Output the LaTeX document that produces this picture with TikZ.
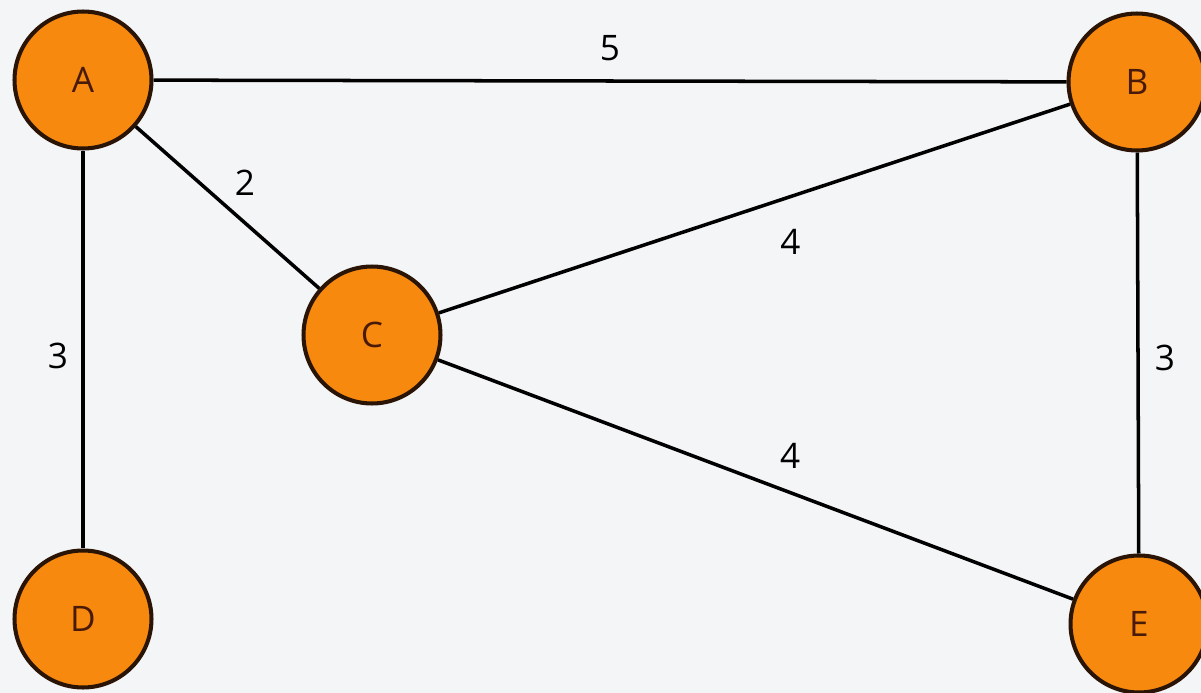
\documentclass[tikz,border=0pt]{standalone}
\usepackage{fontspec}
\setmainfont{Open Sans}
\usepackage{tikz}
\usetikzlibrary{positioning}

\definecolor{vertexfill}{HTML}{F7890F}
\definecolor{vertexline}{HTML}{2A1405}
\definecolor{vertextext}{HTML}{4A1A08}
\definecolor{paper}{HTML}{F4F5F7}

\begin{document}
\begin{tikzpicture}[
  x=0.02cm, y=-0.02cm,
  vertex/.style={circle, draw=vertexline, fill=vertexfill, line width=2.3pt,
    minimum size=2.74cm, inner sep=0pt, text=vertextext, font=\fontsize{20}{22}\selectfont},
  edge/.style={draw=black, line width=2pt},
  weight/.style={font=\fontsize{20}{22}\selectfont, inner sep=1pt}
]
\fill[paper] (0,0) rectangle (1201,693);
\useasboundingbox (0,0) rectangle (1201,693);

\node[vertex] (A) at (83,80) {A};
\node[vertex] (B) at (1137,82) {B};
\node[vertex] (C) at (372,335) {C};
\node[vertex] (D) at (83,619) {D};
\node[vertex] (E) at (1139,624) {E};

\draw[edge] (A) -- node[weight, midway, yshift=0.66cm] {5} (B);
\draw[edge] (A) -- node[weight, midway, xshift=0.35cm, yshift=0.5cm] {2} (C);
\draw[edge] (A) -- node[weight, midway, xshift=-0.5cm, yshift=-0.12cm] {3} (D);
\draw[edge] (C) -- node[weight, pos=0.546, xshift=0.14cm, yshift=-0.86cm] {4} (B);
\draw[edge] (C) -- node[weight, pos=0.545, xshift=0.12cm, yshift=0.68cm] {4} (E);
\draw[edge] (B) -- node[weight, midway, xshift=0.54cm, yshift=-0.1cm] {3} (E);

\end{tikzpicture}
\end{document}
